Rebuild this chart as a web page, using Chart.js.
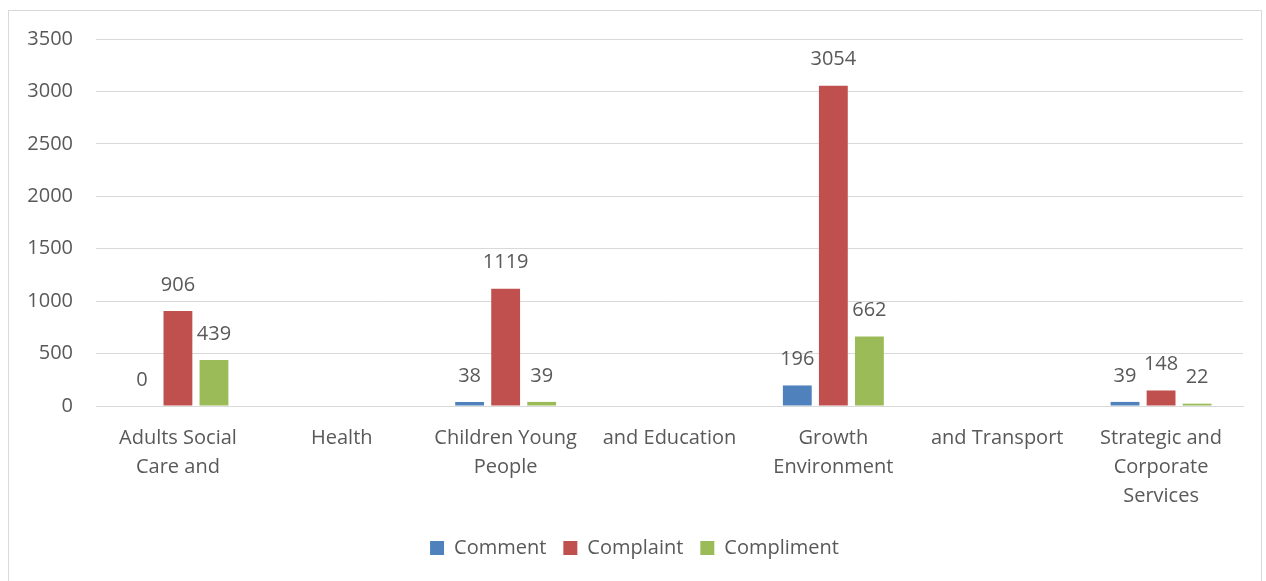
<!DOCTYPE html>
<html>
<head>
<meta charset="utf-8">
<script src="https://cdn.jsdelivr.net/npm/chart.js@4.4.0/dist/chart.umd.min.js"></script>
<style>
    body { margin: 0; background: #fff; }
    #frame {
        position: absolute; left: 8px; top: 10px;
        width: 1254px; height: 575px;
        border: 1px solid #d9d9d9; box-sizing: border-box;
    }
</style>
</head>
<body>
<div id="frame"><canvas id="feedbackChart"></canvas></div>
<script>
const categories = [
    ['Adults Social', 'Care and'],
    'Health',
    ['Children Young', 'People'],
    'and Education',
    ['Growth', 'Environment'],
    'and Transport',
    ['Strategic and', 'Corporate', 'Services']
];
const commentValues = [0, null, 38, null, 196, null, 39];
const complaintValues = [906, null, 1119, null, 3054, null, 148];
const complimentValues = [439, null, 39, null, 662, null, 22];

const textColor = '#595959';
const fontFamily = "'Open Sans', sans-serif";
const fontSize = 20;

// draws the value above each bar, like Excel's "outside end" labels
const valueLabels = {
    id: 'valueLabels',
    afterDatasetsDraw(chart) {
        const ctx = chart.ctx;
        ctx.save();
        ctx.font = fontSize + 'px ' + fontFamily;
        ctx.fillStyle = textColor;
        ctx.textAlign = 'center';
        ctx.textBaseline = 'middle';
        chart.data.datasets.forEach((ds, i) => {
            chart.getDatasetMeta(i).data.forEach((bar, j) => {
                const v = ds.data[j];
                if (v === null || v === undefined) return;
                ctx.fillText(v, bar.x, bar.y - 26);
            });
        });
        ctx.restore();
    }
};

const chartData = {
    labels: categories,
    datasets: [{
        label: 'Comment',
        data: commentValues,
        backgroundColor: '#4f81bd',
        categoryPercentage: 0.66,
        barPercentage: 0.8
    }, {
        label: 'Complaint',
        data: complaintValues,
        backgroundColor: '#c0504d',
        categoryPercentage: 0.66,
        barPercentage: 0.8
    }, {
        label: 'Compliment',
        data: complimentValues,
        backgroundColor: '#9bbb59',
        categoryPercentage: 0.66,
        barPercentage: 0.8
    }]
};

const ctx = document.getElementById('feedbackChart').getContext('2d');
const feedbackChart = new Chart(ctx, {
    type: 'bar',
    data: chartData,
    plugins: [valueLabels],
    options: {
        responsive: true,
        maintainAspectRatio: false,
        animation: false,
        layout: {
            padding: { left: 17, right: 18, top: 28, bottom: 16 }
        },
        scales: {
            y: {
                min: 0,
                max: 3500,
                ticks: {
                    stepSize: 500,
                    color: textColor,
                    padding: 23,
                    font: { size: fontSize, family: fontFamily },
                    callback: function(value) {
                        return value;
                    }
                },
                grid: { color: '#d9d9d9', drawTicks: false },
                border: { display: false },
                afterFit: function(scale) {
                    // label width + gap only, and no extra room above the top tick
                    scale.width = 70;
                    scale.paddingTop = 12;
                    scale.paddingBottom = 0;
                }
            },
            x: {
                ticks: {
                    color: textColor,
                    maxRotation: 0,
                    autoSkip: false,
                    padding: 10,
                    font: { size: fontSize, family: fontFamily, lineHeight: 1.45 }
                },
                grid: { display: false },
                border: { color: '#d9d9d9' },
                afterFit: function(scale) {
                    scale.paddingLeft = 0;
                    scale.paddingRight = 0;
                }
            }
        },
        plugins: {
            legend: {
                position: 'bottom',
                labels: {
                    color: textColor,
                    boxWidth: 14,
                    boxHeight: 14,
                    padding: 17,
                    font: { size: fontSize, family: fontFamily }
                }
            },
            tooltip: { enabled: false }
        }
    }
});
</script>
</body>
</html>
